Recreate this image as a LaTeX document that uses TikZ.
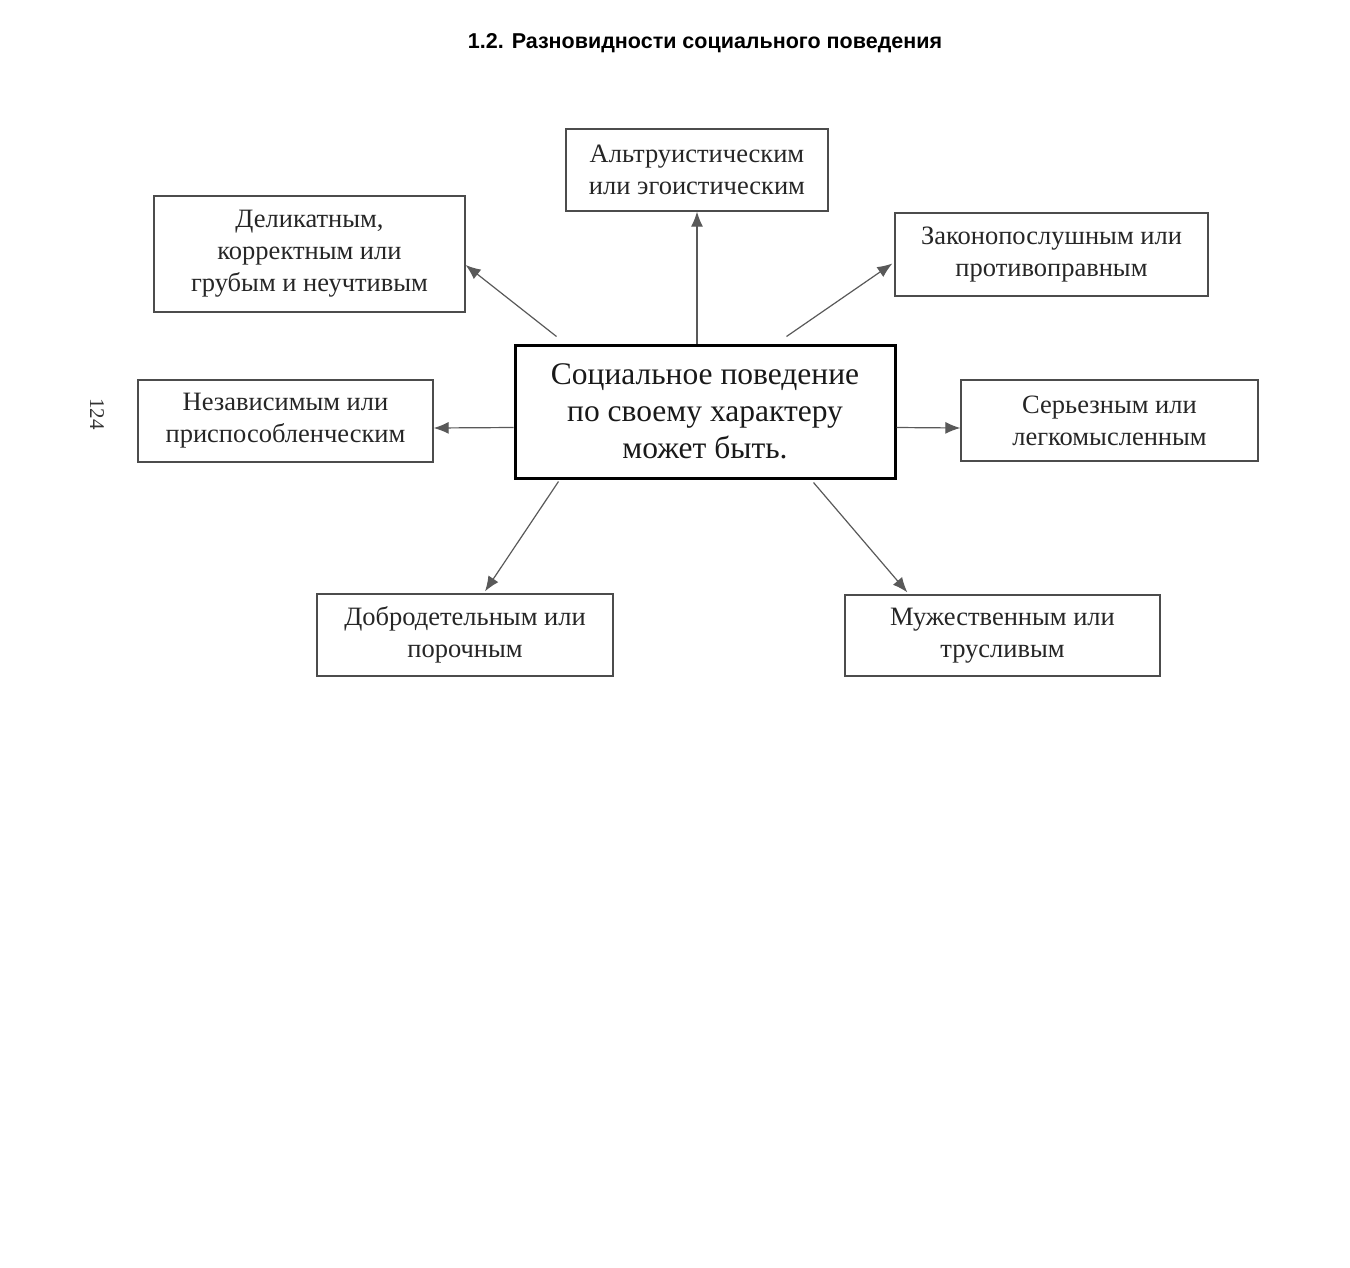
\documentclass[tikz,border=0pt]{standalone}
\usepackage{fontspec}
\setmainfont{Liberation Serif}
\newfontfamily\titlefont{Liberation Sans}
\usetikzlibrary{arrows.meta,calc}
\tikzset{
  box/.style={draw=black!70, line width=1.3pt, rectangle, align=center,
    font=\fontsize{26.5}{32}\selectfont, text=black!85, inner sep=0pt},
  mainbox/.style={draw=black, line width=3pt, rectangle, align=center,
    font=\fontsize{31.5}{37}\selectfont, text=black!90, inner sep=0pt},
  conn/.style={draw=black!65, line width=1.2pt, -{Latex[length=15pt,width=12pt]}}
}
\begin{document}
\begin{tikzpicture}[x=1pt,y=-1pt]
\useasboundingbox (0,0) rectangle (1350,1267);
\node (title) at (705,43) {\titlefont\bfseries\fontsize{21.5}{24}\selectfont 1.2. Разновидности социального поведения};
\node[rotate=-90, font=\fontsize{21}{24}\selectfont, text=black!80] (page) at (97,414) {124};

\node[mainbox, minimum width=380pt, minimum height=133pt] (c) at (705,411.5)
  {Социальное поведение\\по своему характеру\\может быть.};
\node[box, minimum width=262pt, minimum height=82pt] (top) at (697,170)
  {Альтруистическим\\или эгоистическим};
\node[box, minimum width=311pt, minimum height=116pt] (del) at (309.5,254)
  {Деликатным,\\корректным или\\грубым и неучтивым};
\node[box, minimum width=313pt, minimum height=83pt] (zak) at (1051.5,254.5)
  {Законопослушным или\\противоправным};
\node[box, minimum width=295pt, minimum height=82pt] (nez) at (285.5,421)
  {Независимым или\\приспособленческим};
\node[box, minimum width=297pt, minimum height=81pt] (ser) at (1109.5,420.5)
  {Серьезным или\\легкомысленным};
\node[box, minimum width=296pt, minimum height=82pt] (dob) at (465,635)
  {Добродетельным или\\порочным};
\node[box, minimum width=315pt, minimum height=81pt] (muz) at (1002.5,635.5)
  {Мужественным или\\трусливым};

\coordinate (d1) at ($(c.north west)+(43,-7)$);
\coordinate (z1) at ($(c.north west)+(273,-7)$);
\coordinate (b1) at ($(c.south west)+(45,2)$);
\coordinate (m1) at ($(c.south west)+(300,3)$);

\draw[conn] (top.south |- c.north) -- (top.south);
\draw[conn] (d1) -- ($(del.east)+(0,11)$);
\draw[conn] (z1) -- ($(zak.west)+(-2,9)$);
\draw[conn] ($(c.west)+(0,16)$) -- ($(nez.east)+(0,7)$);
\draw[conn] ($(c.east)+(0,16)$) -- ($(ser.west)+(0,7.5)$);
\draw[conn] (b1) -- ($(dob.north)+(20,-2)$);
\draw[conn] (m1) -- ($(muz.north west)+(63,-2)$);
\end{tikzpicture}
\end{document}
